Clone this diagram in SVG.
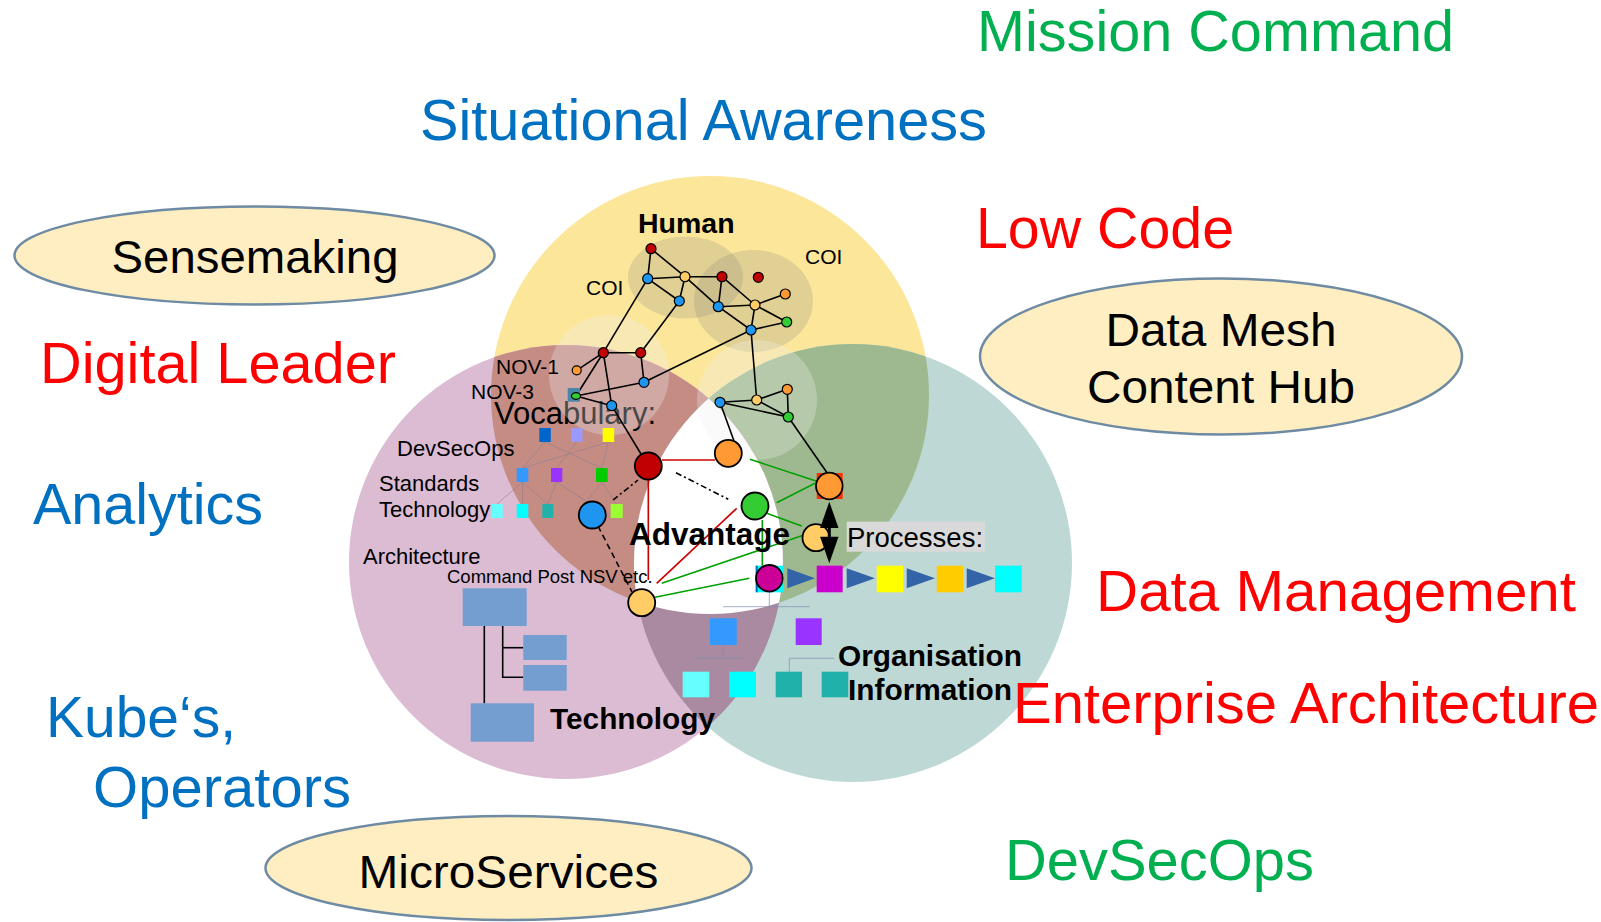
<svg xmlns="http://www.w3.org/2000/svg" width="1601" height="922" viewBox="0 0 1601 922">
<defs>
<style>
text{font-family:"Liberation Sans",Arial,sans-serif}
.big{font-size:57px}
.red{fill:#FF0000}
.blue{fill:#0070C0}
.green{fill:#00B050}
.oval{fill:#FFEEC2;stroke:#6E8BA3;stroke-width:2.5}
.ovt{font-size:47px;fill:#000;text-anchor:middle}
.sm{font-size:22px;fill:#000}
.bold{font-weight:bold;fill:#000}
.net line{stroke:#000;stroke-width:1.6}
.gl{stroke:#00A000;stroke-width:1.6}
.rl{stroke:#CC0000;stroke-width:1.6}
.n{stroke:#000;stroke-width:1.2}
.N{stroke:#000;stroke-width:1.8}
.rd{fill:#C00000}.bl{fill:#1E96F0}.lo{fill:#FFCC66}.or{fill:#FF9933}.gr{fill:#33CC33}
.faint{stroke:#8a7f90;stroke-width:0.8;opacity:0.7}
.tree{stroke:#7F8FB0;stroke-width:1;opacity:0.7}
.arch{fill:#749ECF}
.tri{fill:#3464A8}
.lite{fill:#eeeeee;opacity:0.3}
.coi{fill:#7a7a7a;opacity:0.2}
</style>
<clipPath id="cY"><circle cx="710" cy="395" r="219"/></clipPath>
<clipPath id="cP"><circle cx="566" cy="562" r="217"/></clipPath>
<clipPath id="cT"><circle cx="853" cy="563" r="219"/></clipPath>
</defs>
<rect width="1601" height="922" fill="#fff"/>

<g id="venn">
<circle cx="710" cy="395" r="219" fill="#FCE69A"/>
<circle cx="566" cy="562" r="217" fill="#DBBCD3"/>
<circle cx="853" cy="563" r="219" fill="#BED8D6"/>
<circle cx="566" cy="562" r="217" fill="#C58C84" clip-path="url(#cY)"/>
<circle cx="853" cy="563" r="219" fill="#9EB98F" clip-path="url(#cY)"/>
<circle cx="853" cy="563" r="219" fill="#A98AA1" clip-path="url(#cP)"/>
<g clip-path="url(#cY)"><circle cx="853" cy="563" r="219" fill="#FFFFFF" clip-path="url(#cP)"/></g>
<ellipse class="coi" cx="685.5" cy="277.5" rx="57.5" ry="41"/>
<ellipse class="coi" cx="753.5" cy="301" rx="59.5" ry="51"/>
</g>

<g id="labels-outer">
<text class="big green" x="977" y="51" style="font-size:58px" textLength="477" lengthAdjust="spacingAndGlyphs">Mission Command</text>
<text class="big blue" x="420" y="140" textLength="567" lengthAdjust="spacingAndGlyphs">Situational Awareness</text>
<text class="big red" x="976" y="248" textLength="258" lengthAdjust="spacingAndGlyphs">Low Code</text>
<text class="big red" x="40" y="383" textLength="356" lengthAdjust="spacingAndGlyphs">Digital Leader</text>
<text class="big blue" x="33" y="524" textLength="230" lengthAdjust="spacingAndGlyphs">Analytics</text>
<text class="big blue" x="46" y="737" textLength="190" lengthAdjust="spacingAndGlyphs">Kube‘s,</text>
<text class="big blue" x="93" y="807" textLength="258" lengthAdjust="spacingAndGlyphs">Operators</text>
<text class="big red" x="1096" y="611" style="font-size:57.5px" textLength="480" lengthAdjust="spacingAndGlyphs">Data Management</text>
<text class="big red" x="1013" y="723" textLength="586" lengthAdjust="spacingAndGlyphs">Enterprise Architecture</text>
<text class="big green" x="1005" y="880" style="font-size:57.5px" textLength="309" lengthAdjust="spacingAndGlyphs">DevSecOps</text>
</g>

<g id="sensemaking"><ellipse class="oval" cx="254.5" cy="255.5" rx="240" ry="49"/><text class="ovt" x="255" y="273" textLength="287" lengthAdjust="spacingAndGlyphs">Sensemaking</text></g>
<g id="datamesh"><ellipse class="oval" cx="1221" cy="356.5" rx="241" ry="78"/><text class="ovt" x="1221" y="346" textLength="231" lengthAdjust="spacingAndGlyphs">Data Mesh</text><text class="ovt" x="1221" y="403" textLength="268" lengthAdjust="spacingAndGlyphs">Content Hub</text></g>
<g id="microservices"><ellipse class="oval" cx="508.5" cy="868" rx="243" ry="52"/><text class="ovt" x="508.5" y="888" textLength="300" lengthAdjust="spacingAndGlyphs">MicroServices</text></g>

<text id="vocab" x="494" y="424" style="font-size:31px;fill:#000">Vocabulary:</text>
<circle class="lite" cx="609" cy="375" r="60"/>
<circle class="lite" cx="757" cy="400" r="60"/>

<g id="vocab-squares">
<g class="faint">
<line x1="545" y1="442" x2="522.5" y2="468"/><line x1="545" y1="442" x2="601.8" y2="468"/>
<line x1="576.7" y1="442" x2="556.7" y2="468"/><line x1="608.3" y1="442" x2="522.5" y2="468"/>
<line x1="608.3" y1="442" x2="601.8" y2="468"/><line x1="522.5" y1="482" x2="497" y2="504"/>
<line x1="522.5" y1="482" x2="522.5" y2="504"/><line x1="522.5" y1="482" x2="547.8" y2="504"/>
<line x1="556.7" y1="482" x2="547.8" y2="504"/><line x1="556.7" y1="482" x2="590" y2="504"/>
<line x1="601.8" y1="482" x2="616.7" y2="504"/><line x1="601.8" y1="482" x2="585" y2="504"/>
</g>
<rect x="539.3" y="428" width="11.5" height="14" fill="#0066CC"/>
<rect x="571" y="428" width="11.5" height="14" fill="#9999FF"/>
<rect x="602.7" y="428" width="11.5" height="14" fill="#FFFF00"/>
<rect x="516.7" y="468" width="11.6" height="14" fill="#3399FF"/>
<rect x="551" y="468" width="11.3" height="14" fill="#9933FF"/>
<rect x="596" y="468" width="11.7" height="14" fill="#00CC00"/>
<rect x="491.7" y="504" width="11" height="14" fill="#66FFFF"/>
<rect x="516.7" y="504" width="11.6" height="14" fill="#00FFFF"/>
<rect x="542.3" y="504" width="11" height="14" fill="#20B2AA"/>
<rect x="610.7" y="504" width="12" height="14" fill="#99FF33"/>
</g>

<g id="architecture">
<g stroke="#000" stroke-width="1.6" fill="none">
<line x1="484.3" y1="626" x2="484.3" y2="703.3"/>
<polyline points="502.7,626 502.7,677.3 523.3,677.3"/>
<line x1="502.7" y1="647.7" x2="523.3" y2="647.7"/>
</g>
<rect class="arch" x="462.7" y="588.3" width="64" height="37.7"/>
<rect class="arch" x="523.3" y="635" width="43.4" height="25"/>
<rect class="arch" x="523.3" y="665" width="43.4" height="25.7"/>
<rect class="arch" x="470.7" y="703.3" width="63.3" height="38.4"/>
</g>

<g id="org-squares">
<g class="tree" fill="none">
<polyline points="769.3,593 769.3,606.7"/><line x1="723" y1="606.7" x2="810" y2="606.7"/>
<line x1="696" y1="658.3" x2="741.7" y2="658.3"/><line x1="723.3" y1="645" x2="723.3" y2="658.3"/>
<line x1="789.3" y1="658.3" x2="834.3" y2="658.3"/><line x1="789.3" y1="658.3" x2="789.3" y2="671.7"/>
</g>
<rect x="710" y="618.3" width="26.7" height="26.7" fill="#3399FF"/>
<rect x="795.7" y="618.3" width="26" height="26.7" fill="#9933FF"/>
<rect x="682.7" y="671.7" width="26.6" height="25.6" fill="#66FFFF"/>
<rect x="729.3" y="671.7" width="26.7" height="25.6" fill="#00FFFF"/>
<rect x="775.7" y="671.7" width="26.3" height="25.6" fill="#20B2AA"/>
<rect x="821.7" y="671.7" width="26.6" height="25.6" fill="#20B2AA"/>
</g>

<g id="connectors">
<g class="net">
<line x1="651" y1="248.7" x2="647.7" y2="278.7"/>
<line x1="651" y1="248.7" x2="685" y2="276.7"/>
<line x1="647.7" y1="278.7" x2="685" y2="276.7"/>
<line x1="647.7" y1="278.7" x2="679.3" y2="301"/>
<line x1="685" y1="276.7" x2="679.3" y2="301"/>
<line x1="685" y1="276.7" x2="722" y2="276.7"/>
<line x1="685" y1="276.7" x2="718.3" y2="306.7"/>
<line x1="722" y1="276.7" x2="718.3" y2="306.7"/>
<line x1="722" y1="276.7" x2="755" y2="305"/>
<line x1="718.3" y1="306.7" x2="755" y2="305"/>
<line x1="718.3" y1="306.7" x2="751" y2="330"/>
<line x1="755" y1="305" x2="785.3" y2="294"/>
<line x1="755" y1="305" x2="786.7" y2="322"/>
<line x1="755" y1="305" x2="751" y2="330"/>
<line x1="751" y1="330" x2="786.7" y2="322"/>
<line x1="647.7" y1="278.7" x2="603.3" y2="352.7"/>
<line x1="679.3" y1="301" x2="640.7" y2="352.7"/>
<line x1="603.3" y1="352.7" x2="640.7" y2="352.7"/>
<line x1="603.3" y1="352.7" x2="576.7" y2="370.3"/>
<line x1="603.3" y1="352.7" x2="576" y2="396"/>
<line x1="603.3" y1="352.7" x2="611.7" y2="405.7"/>
<line x1="640.7" y1="352.7" x2="644" y2="382.3"/>
<line x1="576" y1="396" x2="644" y2="382.3"/>
<line x1="576" y1="396" x2="611.7" y2="405.7"/>
<line x1="644" y1="382.3" x2="751" y2="330"/>
<line x1="751" y1="330" x2="756.7" y2="400"/>
<line x1="720" y1="402.3" x2="756.7" y2="400"/>
<line x1="720" y1="402.3" x2="788.3" y2="417"/>
<line x1="756.7" y1="400" x2="787.3" y2="389.3"/>
<line x1="756.7" y1="400" x2="788.3" y2="417"/>
<line x1="787.3" y1="389.3" x2="788.3" y2="417"/>
<line x1="611.7" y1="405.7" x2="648.3" y2="466"/>
<line x1="720" y1="402.3" x2="734" y2="441"/>
<line x1="788.3" y1="417" x2="829.3" y2="476"/>
</g>
<line class="rl" x1="648.3" y1="466" x2="648.3" y2="580"/>
<line class="rl" x1="662" y1="460" x2="715" y2="460"/>
<line class="rl" x1="656.7" y1="583.3" x2="736.7" y2="508.3"/>
<line x1="613" y1="500" x2="638" y2="480" stroke="#000" stroke-width="1.6" stroke-dasharray="6,3,2,3"/>
<line x1="676" y1="472.7" x2="728.3" y2="499.3" stroke="#000" stroke-width="1.6" stroke-dasharray="6,3,2,3"/>
<line x1="598" y1="526" x2="632" y2="592" stroke="#000" stroke-width="1.6" stroke-dasharray="6,4"/>
<line class="gl" x1="750" y1="459.3" x2="816" y2="481"/>
<line class="gl" x1="776.7" y1="502.7" x2="815" y2="483.3"/>
<line class="gl" x1="766.7" y1="513.3" x2="801.7" y2="526"/>
<line class="gl" x1="661.7" y1="583.3" x2="804" y2="535"/>
<line class="gl" x1="655" y1="597.3" x2="749.3" y2="578.3"/>
<line class="gl" x1="762.3" y1="520" x2="762.3" y2="565.7"/>
</g>

<g id="small-nodes">
<rect x="567.7" y="388" width="12.3" height="13.7" fill="#4A86A8"/>
<circle class="n rd" cx="651" cy="248.7" r="5"/>
<circle class="n bl" cx="647.7" cy="278.7" r="5"/>
<circle class="n lo" cx="685" cy="276.7" r="5"/>
<circle class="n bl" cx="679.3" cy="301" r="5"/>
<circle class="n rd" cx="722" cy="276.7" r="5"/>
<circle class="n rd" cx="758.3" cy="277.3" r="5"/>
<circle class="n or" cx="785.3" cy="294" r="5"/>
<circle class="n bl" cx="718.3" cy="306.7" r="5"/>
<circle class="n lo" cx="755" cy="305" r="5"/>
<circle class="n gr" cx="786.7" cy="322" r="5"/>
<circle class="n bl" cx="751" cy="330" r="5"/>
<circle class="n rd" cx="603.3" cy="352.7" r="5"/>
<circle class="n rd" cx="640.7" cy="352.7" r="5"/>
<circle class="n or" cx="576.7" cy="370.3" r="4.5"/>
<circle class="n bl" cx="644" cy="382.3" r="5"/>
<ellipse class="n gr" cx="576" cy="396" rx="4.5" ry="3.3"/>
<circle class="n bl" cx="611.7" cy="405.7" r="5"/>
<circle class="n bl" cx="720" cy="402.3" r="5"/>
<circle class="n lo" cx="756.7" cy="400" r="5"/>
<circle class="n or" cx="787.3" cy="389.3" r="5"/>
<circle class="n gr" cx="788.3" cy="417" r="5"/>
</g>

<g id="big-nodes">
<circle class="N rd" cx="648.3" cy="466" r="13.5"/>
<circle class="N bl" cx="592.3" cy="515" r="13.5"/>
<circle class="N lo" cx="641.7" cy="602.7" r="13.5"/>
<circle class="N or" cx="728.3" cy="453.3" r="13.5"/>
<circle class="N gr" cx="755" cy="506" r="13.5"/>
<rect x="816.7" y="473" width="26" height="26" fill="#FF3300"/>
<circle class="N or" cx="829.3" cy="486" r="13.3"/>
<circle class="N lo" cx="816" cy="537.7" r="13.5"/>
<g id="double-arrow">
<line x1="829.3" y1="520" x2="829.3" y2="545" stroke="#000" stroke-width="3"/>
<polygon points="829.3,501.7 838.5,528 820.1,528" fill="#000"/>
<polygon points="829.3,563.3 838.5,536.7 820.1,536.7" fill="#000"/>
</g>
</g>

<g id="process-chain">
<rect x="755.7" y="565.7" width="27.6" height="26.6" fill="#00FFFF"/>
<line x1="756.7" y1="565.7" x2="756.7" y2="592.3" stroke="#0070C0" stroke-width="2"/>
<circle class="N" cx="769.3" cy="578.3" r="13.3" fill="#CC0099"/>
<polygon class="tri" points="787.3,568.3 815,578.3 787.3,588.3"/>
<rect x="816.7" y="565.7" width="26" height="26.6" fill="#CC00CC"/>
<polygon class="tri" points="846.7,568.3 875,578.3 846.7,588.3"/>
<rect x="876.7" y="565.7" width="26.6" height="26.6" fill="#FFFF00"/>
<polygon class="tri" points="906.7,568.3 935,578.3 906.7,588.3"/>
<rect x="936.7" y="565.7" width="26.6" height="26.6" fill="#FFCC00"/>
<polygon class="tri" points="966.7,568.3 995,578.3 966.7,588.3"/>
<rect x="995" y="565.7" width="26.7" height="26.6" fill="#00FFFF"/>
</g>

<g id="inner-labels">
<text class="bold" x="638" y="233" style="font-size:28.5px">Human</text>
<text x="586" y="295" style="font-size:21px">COI</text>
<text x="805" y="264" style="font-size:21px">COI</text>
<text x="496" y="374" style="font-size:21px">NOV-1</text>
<text x="471" y="399" style="font-size:21px">NOV-3</text>
<text class="sm" x="397" y="456">DevSecOps</text>
<text class="sm" x="379" y="491">Standards</text>
<text class="sm" x="379" y="517">Technology</text>
<text class="sm" x="363" y="564">Architecture</text>
<text x="447" y="583" style="font-size:18.5px">Command Post NSV etc.</text>
<text class="bold" x="629" y="545" style="font-size:31.5px">Advantage</text>
<rect x="846.7" y="521.7" width="138.3" height="30" fill="#D9D9D9"/>
<text x="847" y="546.5" style="font-size:27.5px">Processes:</text>
<text class="bold" x="838" y="666" style="font-size:29.5px" textLength="184" lengthAdjust="spacingAndGlyphs">Organisation</text>
<text class="bold" x="848" y="700" style="font-size:29.5px" textLength="164" lengthAdjust="spacingAndGlyphs">Information</text>
<text class="bold" x="550" y="729" style="font-size:29px" textLength="165" lengthAdjust="spacingAndGlyphs">Technology</text>
</g>
</svg>
